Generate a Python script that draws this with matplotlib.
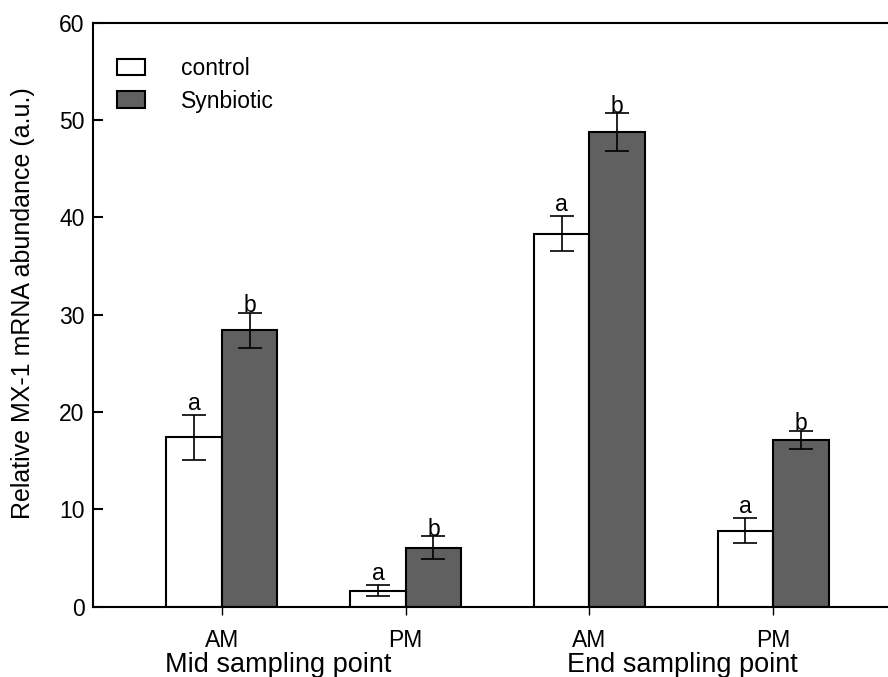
import matplotlib
matplotlib.use("Agg")
import matplotlib.pyplot as plt
from matplotlib.patches import Patch
import numpy as np

plt.rcParams['font.family'] = ['Liberation Sans', 'DejaVu Sans']

# Data
timepoints = ["AM", "PM", "AM", "PM"]
groups = ["Mid sampling point", "End sampling point"]
series_names = ["control", "Synbiotic"]
control_mean = [17.4, 1.65, 38.3, 7.8]
control_err = [2.3, 0.55, 1.8, 1.3]
synbiotic_mean = [28.4, 6.05, 48.75, 17.15]
synbiotic_err = [1.8, 1.2, 1.95, 0.93]
control_letters = ["a", "a", "a", "a"]
synbiotic_letters = ["b", "b", "b", "b"]

W, H, DPI = 888, 677, 100
fig = plt.figure(figsize=(W / DPI, H / DPI), dpi=DPI)
ax = fig.add_axes([93 / W, 1 - 606.7 / H, 1 - 93 / W, (606.7 - 22.7) / H])

x = np.arange(len(timepoints))
width = 0.302
lw = 1.5

ax.bar(x - width / 2, control_mean, width, color="white", edgecolor="black",
       linewidth=lw, zorder=2)
ax.bar(x + width / 2, synbiotic_mean, width, color="#606060", edgecolor="black",
       linewidth=lw, zorder=2)
ax.errorbar(x - width / 2, control_mean, yerr=control_err, fmt="none", ecolor="black",
            elinewidth=1.2, capsize=8.3, capthick=1.2, zorder=3)
ax.errorbar(x + width / 2, synbiotic_mean, yerr=synbiotic_err, fmt="none", ecolor="black",
            elinewidth=1.2, capsize=8.3, capthick=1.2, zorder=3)

# significance letters: baseline lift above the cap (points), per letter shape
letter_lift = {"a": 3.8, "b": 0.3}
for xs, means, errs, letters in ((x - width / 2, control_mean, control_err, control_letters),
                                 (x + width / 2, synbiotic_mean, synbiotic_err, synbiotic_letters)):
    for xi, m, e, t in zip(xs, means, errs, letters):
        ax.annotate(t, (xi, m + e), xytext=(0, letter_lift[t]), textcoords="offset points",
                    ha="center", va="baseline", fontsize=16.5)

ax.set_xlim(-0.702, 3.625)
ax.set_ylim(0, 60)
ax.set_yticks(np.arange(0, 61, 10))
ax.set_xticks(x)
ax.set_xticklabels(timepoints, fontsize=16.5)
ax.tick_params(axis="y", direction="in", length=7, width=1.5, labelsize=16.5, pad=6)
ax.tick_params(axis="x", direction="out", length=6, width=1, pad=10)

for s in ["left", "top", "bottom"]:
    ax.spines[s].set_linewidth(lw)
ax.spines["right"].set_visible(False)

ax.set_ylabel("Relative MX-1 mRNA abundance (a.u.)", fontsize=18)
ax.yaxis.set_label_coords(-0.073, 0.519)

# Group labels under the timepoint ticks
ax.text(0.307, -0.077, groups[0], transform=ax.get_xaxis_transform(),
        ha="center", va="top", fontsize=19.5)
ax.text(2.504, -0.077, groups[1], transform=ax.get_xaxis_transform(),
        ha="center", va="top", fontsize=19.5)

handles = [Patch(facecolor="white", edgecolor="black", linewidth=lw),
           Patch(facecolor="#606060", edgecolor="black", linewidth=lw)]
ax.legend(handles, series_names, loc="upper left", bbox_to_anchor=(108 / W, 1 - 48 / H),
          bbox_transform=fig.transFigure, frameon=False, fontsize=16.5,
          handlelength=1.2, handleheight=0.74, handletextpad=1.6, labelspacing=0.42,
          borderaxespad=0)

fig.savefig("out.png", dpi=DPI)
